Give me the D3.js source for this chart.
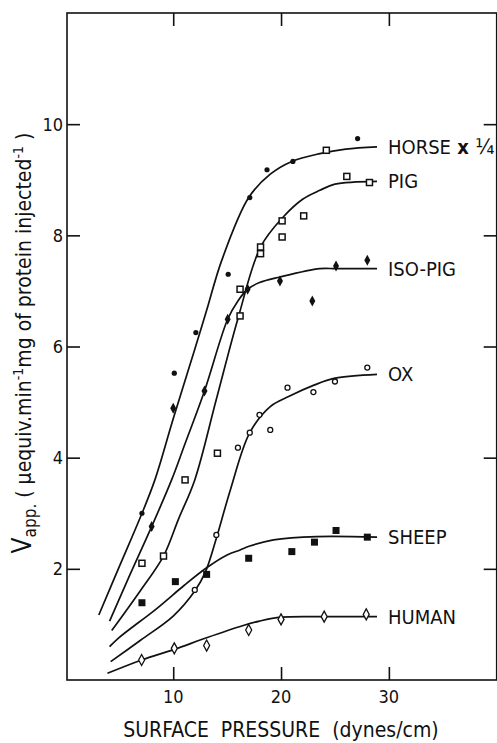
<!DOCTYPE html>
<html>
<head>
<meta charset="utf-8">
<script src="https://cdn.jsdelivr.net/npm/d3@7"></script>
<style>
  body { margin: 0; background: #fff; }
  svg text { font-family: "Liberation Sans Narrow", "DejaVu Sans Condensed", "Liberation Sans", sans-serif; fill: #111; }
</style>
</head>
<body>
<div id="viz"></div>
<script>
const WIDTH = 497, HEIGHT = 743;

// measured points (x = surface pressure, y = Vapp.)
const horsePts = [[7.1,3.0],[10.1,5.52],[12.1,6.25],[15.1,7.30],[17.1,8.68],[18.7,9.18],[21.1,9.33],[27.1,9.74]];
const pigPts = [[7.1,2.1],[9.1,2.23],[11.1,3.6],[14.1,4.08],[16.2,6.55],[16.2,7.03],[18.1,7.67],[18.1,7.79],[20.1,7.97],[20.1,8.26],[22.1,8.35],[24.2,9.53],[26.1,9.06],[28.2,8.95]];
const isoPigPts = [[8.0,2.76],[10.0,4.89],[12.9,5.2],[15.05,6.49],[16.9,7.03],[19.9,7.18],[22.9,6.82],[25.1,7.45],[28.0,7.55]];
const oxPts = [[12.0,1.62],[14.0,2.61],[16.0,4.18],[17.1,4.45],[18.0,4.77],[19.0,4.50],[20.6,5.26],[23.0,5.18],[25.0,5.37],[28.0,5.62]];
const sheepPts = [[7.1,1.39],[10.2,1.77],[13.1,1.90],[17.0,2.19],[21.0,2.31],[23.1,2.48],[25.1,2.69],[28.0,2.57]];
const humanPts = [[7.07,0.36],[10.1,0.57],[13.1,0.62],[17.0,0.90],[20.0,1.09],[24.0,1.14],[27.9,1.18]];

// fitted curves
const horseCurve = [[3.1,1.17],[5,2.04],[7,2.95],[8.3,3.6],[10,4.7],[12,5.95],[13.1,6.65],[14.5,7.55],[17,8.68],[19,9.1],[21,9.33],[23.6,9.47],[26,9.55],[28.9,9.59]];
const pigCurve = [[4.3,0.89],[7,1.62],[9.1,2.23],[10.5,2.9],[12,3.6],[14,5.05],[16,6.5],[18.1,7.79],[20.2,8.33],[22,8.65],[23.6,8.81],[25,8.92],[28.9,8.97]];
const isoPigCurve = [[4.1,1.06],[6,1.9],[8,2.76],[9.85,3.6],[11,4.2],[12.9,5.2],[15.05,6.49],[16,6.82],[16.9,7.03],[18,7.15],[19.9,7.25],[23.6,7.40],[25.1,7.40],[28.9,7.40]];
const oxCurve = [[4.2,0.33],[7,0.72],[10,1.15],[12,1.6],[13,1.95],[14,2.55],[15.3,3.42],[17.1,4.45],[19,4.92],[20.7,5.10],[23,5.3],[25,5.43],[28.9,5.50]];
const sheepCurve = [[4.1,0.6],[4.9,0.75],[8.5,1.29],[11,1.7],[13.1,2.02],[15,2.25],[16.2,2.34],[17.1,2.41],[19.3,2.52],[23.3,2.58],[28.9,2.57]];
const humanCurve = [[3.9,0.12],[7.07,0.36],[10.1,0.55],[13.1,0.76],[16.5,0.98],[18,1.06],[20,1.13],[24,1.14],[28.9,1.14]];

const seriesNames = ["HORSE", "PIG", "ISO-PIG", "OX", "SHEEP", "HUMAN"];
const labelY = [9.59, 8.97, 7.40, 5.50, 2.57, 1.14];
const xTicks = [10, 20, 30];
const yTicks = [2, 4, 6, 8, 10];

const svg = d3.select("#viz").append("svg")
  .attr("width", WIDTH)
  .attr("height", HEIGHT);

const x = d3.scaleLinear().domain([0.15, 40]).range([67, 496.7]);
const y = d3.scaleLinear().domain([0, 12]).range([680, 13]);

// frame
svg.append("rect")
  .attr("x", x(0.15)).attr("y", y(12))
  .attr("width", x(40) - x(0.15)).attr("height", y(0) - y(12))
  .attr("fill", "none").attr("stroke", "#111").attr("stroke-width", 1.6);

// inward ticks on all four sides
const tl = 13;
svg.append("g").attr("transform", `translate(0,${y(0)})`)
  .call(d3.axisBottom(x).tickValues(xTicks).tickSize(-tl).tickFormat(""))
  .call(g => g.select(".domain").remove());
svg.append("g").attr("transform", `translate(0,${y(12)})`)
  .call(d3.axisTop(x).tickValues(xTicks).tickSize(-tl).tickFormat(""))
  .call(g => g.select(".domain").remove());
svg.append("g").attr("transform", `translate(${x(0.15)},0)`)
  .call(d3.axisLeft(y).tickValues(yTicks).tickSize(-tl).tickFormat(""))
  .call(g => g.select(".domain").remove());
svg.append("g").attr("transform", `translate(${x(40)},0)`)
  .call(d3.axisRight(y).tickValues(yTicks).tickSize(-tl).tickFormat(""))
  .call(g => g.select(".domain").remove());
svg.selectAll(".tick line").attr("stroke", "#111").attr("stroke-width", 1.6);

// tick labels
svg.selectAll(".xlab").data(xTicks).join("text")
  .attr("x", d => x(d)).attr("y", 703)
  .attr("text-anchor", "middle").style("font-size", "18px")
  .text(d => d);
svg.selectAll(".ylab").data(yTicks).join("text")
  .attr("x", 63).attr("y", d => y(d) + 6.5)
  .attr("text-anchor", "end").style("font-size", "18px")
  .text(d => d);

// axis titles
svg.append("text")
  .attr("x", 281).attr("y", 737)
  .attr("text-anchor", "middle")
  .style("font-size", "21px")
  .style("word-spacing", "6px")
  .text("SURFACE PRESSURE (dynes/cm)");

const yt = svg.append("text")
  .attr("transform", "translate(31,343) rotate(-90)")
  .attr("text-anchor", "middle")
  .style("font-size", "21px");
yt.append("tspan").style("font-size", "26px").text("V");
yt.append("tspan").attr("dy", 5).style("font-size", "17px").text("app.");
yt.append("tspan").attr("dy", -5).text("  ( μequiv.min");
yt.append("tspan").attr("dy", -8).style("font-size", "14px").text("-1");
yt.append("tspan").attr("dy", 8).text("mg of protein injected");
yt.append("tspan").attr("dy", -8).style("font-size", "14px").text("-1");
yt.append("tspan").attr("dy", 8).text(" )");

// curves
const line = d3.line()
  .x(d => x(d[0])).y(d => y(d[1]))
  .curve(d3.curveCatmullRom.alpha(0.5));
const curves = [horseCurve, pigCurve, isoPigCurve, oxCurve, sheepCurve, humanCurve];
svg.append("g").selectAll("path").data(curves).join("path")
  .attr("d", line)
  .attr("fill", "none")
  .attr("stroke", "#111")
  .attr("stroke-width", 1.7);

// markers
const g = svg.append("g");
g.selectAll(".horse").data(horsePts).join("circle")
  .attr("cx", d => x(d[0])).attr("cy", d => y(d[1])).attr("r", 2.6)
  .attr("fill", "#111");
g.selectAll(".pig").data(pigPts).join("rect")
  .attr("x", d => x(d[0]) - 3).attr("y", d => y(d[1]) - 3)
  .attr("width", 6).attr("height", 6)
  .attr("fill", "#fff").attr("stroke", "#111").attr("stroke-width", 1.5);
const diamond = (cx, cy, w, h) => `M${cx},${cy - h / 2}L${cx + w / 2},${cy}L${cx},${cy + h / 2}L${cx - w / 2},${cy}Z`;
g.selectAll(".iso").data(isoPigPts).join("path")
  .attr("d", d => diamond(x(d[0]), y(d[1]), 6, 11))
  .attr("fill", "#111");
g.selectAll(".ox").data(oxPts).join("circle")
  .attr("cx", d => x(d[0])).attr("cy", d => y(d[1])).attr("r", 2.5)
  .attr("fill", "#fff").attr("stroke", "#111").attr("stroke-width", 1.3);
g.selectAll(".sheep").data(sheepPts).join("rect")
  .attr("x", d => x(d[0]) - 3.5).attr("y", d => y(d[1]) - 3.5)
  .attr("width", 7).attr("height", 7)
  .attr("fill", "#111");
g.selectAll(".human").data(humanPts).join("path")
  .attr("d", d => diamond(x(d[0]), y(d[1]), 6, 11))
  .attr("fill", "#fff").attr("stroke", "#111").attr("stroke-width", 1.3);

// series labels
const labels = svg.selectAll(".lab").data(seriesNames).join("text")
  .attr("x", 388).attr("y", (d, i) => y(labelY[i]) + 7)
  .style("font-size", "20px")
  .text(d => d);
labels.filter(d => d === "HORSE").append("tspan").style("font-weight", "bold").text(" x ");
labels.filter(d => d === "HORSE").append("tspan").style("font-size", "22px").text("¼");
</script>
</body>
</html>
